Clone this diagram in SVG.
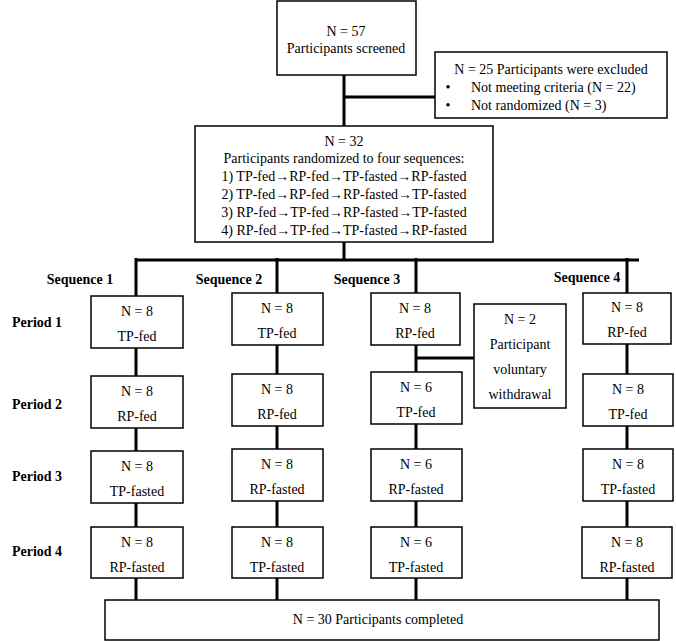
<svg xmlns="http://www.w3.org/2000/svg" width="676" height="641" viewBox="0 0 676 641">
<style>
text{font-family:"Liberation Serif","Times New Roman",serif;font-size:14px;fill:#000;text-anchor:middle}
.b{font-weight:bold}
rect{fill:#fff;stroke:#000;stroke-width:1.5}
#connectors path{fill:none;stroke:#000;stroke-width:3}
</style>
<rect x="0" y="0" width="676" height="641" style="stroke:none"/>
<g id="connectors">
<path d="M344 75V126M344 97H435M344 242V260M136 260H639M136 258V296M277 258V293M416 258V293M627 258V293"/>
<path d="M136 348V376M136 428V451M136 503V527M136 578V600"/>
<path d="M277 345V374M277 426V449M277 501V527M277 578V600"/>
<path d="M416 345V372M416 424V449M416 501V527M416 578V600M416 358H474"/>
<path d="M627 344V374M627 426V449M627 501V527M627 578V600"/>
</g>
<g id="screened"><rect x="277" y="1" width="139" height="74"/><text x="346" y="36">N = 57</text><text x="346" y="53">Participants screened</text></g>
<g id="excluded"><rect x="435" y="52" width="232" height="66"/><text x="551" y="74">N = 25 Participants were excluded</text>
<text x="448" y="92">•</text><text x="471" y="92" style="text-anchor:start">Not meeting criteria (N = 22)</text>
<text x="448" y="110">•</text><text x="471" y="110" style="text-anchor:start">Not randomized (N = 3)</text></g>
<g id="randomized"><rect x="195" y="126" width="298" height="116"/>
<text x="344" y="146">N = 32</text><text x="344" y="163">Participants randomized to four sequences:</text>
<text x="344" y="181">1) TP-fed→RP-fed→TP-fasted→RP-fasted</text>
<text x="344" y="199">2) TP-fed→RP-fed→RP-fasted→TP-fasted</text>
<text x="344" y="217">3) RP-fed→TP-fed→RP-fasted→TP-fasted</text>
<text x="344" y="235">4) RP-fed→TP-fed→TP-fasted→RP-fasted</text></g>
<g id="labels" class="b">
<text class="b" x="80" y="284">Sequence 1</text><text class="b" x="229" y="284">Sequence 2</text><text class="b" x="367" y="284">Sequence 3</text><text class="b" x="587" y="282">Sequence 4</text>
<text class="b" x="37" y="327">Period 1</text><text class="b" x="37" y="409">Period 2</text><text class="b" x="37" y="481">Period 3</text><text class="b" x="37" y="556">Period 4</text></g>
<g id="s1p1"><rect x="91" y="296" width="92" height="52"/><text x="137" y="316">N = 8</text><text x="137" y="341">TP-fed</text></g>
<g id="s1p2"><rect x="91" y="376" width="92" height="52"/><text x="137" y="396">N = 8</text><text x="137" y="421">RP-fed</text></g>
<g id="s1p3"><rect x="91" y="451" width="92" height="52"/><text x="137" y="471">N = 8</text><text x="137" y="496">TP-fasted</text></g>
<g id="s1p4"><rect x="91" y="527" width="92" height="51"/><text x="137" y="547">N = 8</text><text x="137" y="572">RP-fasted</text></g>
<g id="s2p1"><rect x="232" y="293" width="91" height="52"/><text x="277" y="313">N = 8</text><text x="277" y="338">TP-fed</text></g>
<g id="s2p2"><rect x="232" y="374" width="91" height="52"/><text x="277" y="394">N = 8</text><text x="277" y="419">RP-fed</text></g>
<g id="s2p3"><rect x="232" y="449" width="91" height="52"/><text x="277" y="469">N = 8</text><text x="277" y="494">RP-fasted</text></g>
<g id="s2p4"><rect x="232" y="527" width="91" height="51"/><text x="277" y="547">N = 8</text><text x="277" y="572">TP-fasted</text></g>
<g id="s3p1"><rect x="371" y="293" width="89" height="52"/><text x="415" y="313">N = 8</text><text x="415" y="338">RP-fed</text></g>
<g id="s3p2"><rect x="371" y="372" width="91" height="52"/><text x="416" y="392">N = 6</text><text x="416" y="417">TP-fed</text></g>
<g id="s3p3"><rect x="371" y="449" width="91" height="52"/><text x="416" y="469">N = 6</text><text x="416" y="494">RP-fasted</text></g>
<g id="s3p4"><rect x="371" y="527" width="91" height="51"/><text x="416" y="547">N = 6</text><text x="416" y="572">TP-fasted</text></g>
<g id="withdraw"><rect x="474" y="304" width="92" height="104"/><text x="520" y="324">N = 2</text><text x="520" y="349">Participant</text><text x="520" y="374">voluntary</text><text x="520" y="399">withdrawal</text></g>
<g id="s4p1"><rect x="583" y="293" width="88" height="51"/><text x="627" y="312">N = 8</text><text x="627" y="337">RP-fed</text></g>
<g id="s4p2"><rect x="583" y="374" width="90" height="52"/><text x="628" y="394">N = 8</text><text x="628" y="419">TP-fed</text></g>
<g id="s4p3"><rect x="583" y="449" width="90" height="52"/><text x="628" y="469">N = 8</text><text x="628" y="494">TP-fasted</text></g>
<g id="s4p4"><rect x="582" y="527" width="90" height="51"/><text x="627" y="547">N = 8</text><text x="627" y="572">RP-fasted</text></g>
<g id="completed"><rect x="105" y="600" width="554" height="40"/><text x="378" y="624">N = 30 Participants completed</text></g>
</svg>
